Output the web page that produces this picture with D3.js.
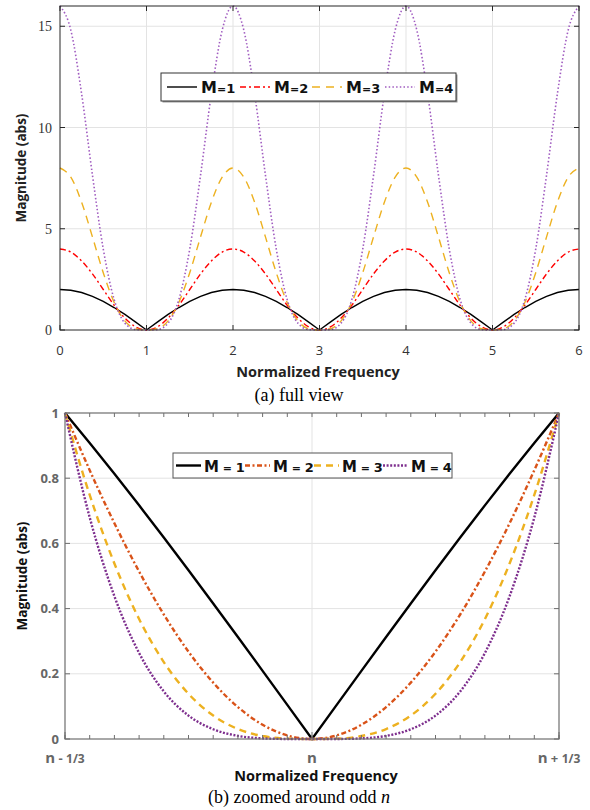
<!DOCTYPE html>
<html>
<head>
<meta charset="utf-8">
<script src="https://cdn.jsdelivr.net/npm/d3@7"></script>
<style>
  body { margin: 0; background: #fff; }
  svg { display: block; }
</style>
</head>
<body>
<div id="chart"></div>
<script>
// (a) full view : sample frequencies and |H| for M = 1..4
var freq = [0, 0.125, 0.25, 0.375, 0.5, 0.625, 0.75, 0.875, 1, 1.125, 1.25, 1.375, 1.5, 1.625, 1.75, 1.875,
  2, 2.125, 2.25, 2.375, 2.5, 2.625, 2.75, 2.875, 3, 3.125, 3.25, 3.375, 3.5, 3.625, 3.75, 3.875,
  4, 4.125, 4.25, 4.375, 4.5, 4.625, 4.75, 4.875, 5, 5.125, 5.25, 5.375, 5.5, 5.625, 5.75, 5.875, 6];
var magM1 = [2, 1.96, 1.85, 1.66, 1.41, 1.11, 0.77, 0.39, 0, 0.39, 0.77, 1.11, 1.41, 1.66, 1.85, 1.96,
  2, 1.96, 1.85, 1.66, 1.41, 1.11, 0.77, 0.39, 0, 0.39, 0.77, 1.11, 1.41, 1.66, 1.85, 1.96,
  2, 1.96, 1.85, 1.66, 1.41, 1.11, 0.77, 0.39, 0, 0.39, 0.77, 1.11, 1.41, 1.66, 1.85, 1.96, 2];
var magM2 = [4, 3.85, 3.41, 2.77, 2.00, 1.23, 0.59, 0.15, 0, 0.15, 0.59, 1.23, 2.00, 2.77, 3.41, 3.85,
  4, 3.85, 3.41, 2.77, 2.00, 1.23, 0.59, 0.15, 0, 0.15, 0.59, 1.23, 2.00, 2.77, 3.41, 3.85,
  4, 3.85, 3.41, 2.77, 2.00, 1.23, 0.59, 0.15, 0, 0.15, 0.59, 1.23, 2.00, 2.77, 3.41, 3.85, 4];
var magM3 = [8, 7.55, 6.31, 4.60, 2.83, 1.37, 0.45, 0.06, 0, 0.06, 0.45, 1.37, 2.83, 4.60, 6.31, 7.55,
  8, 7.55, 6.31, 4.60, 2.83, 1.37, 0.45, 0.06, 0, 0.06, 0.45, 1.37, 2.83, 4.60, 6.31, 7.55,
  8, 7.55, 6.31, 4.60, 2.83, 1.37, 0.45, 0.06, 0, 0.06, 0.45, 1.37, 2.83, 4.60, 6.31, 7.55, 8];
var magM4 = [16, 14.81, 11.66, 7.65, 4.00, 1.52, 0.34, 0.02, 0, 0.02, 0.34, 1.52, 4.00, 7.65, 11.66, 14.81,
  16, 14.81, 11.66, 7.65, 4.00, 1.52, 0.34, 0.02, 0, 0.02, 0.34, 1.52, 4.00, 7.65, 11.66, 14.81,
  16, 14.81, 11.66, 7.65, 4.00, 1.52, 0.34, 0.02, 0, 0.02, 0.34, 1.52, 4.00, 7.65, 11.66, 14.81, 16];
var fullXTicks = [0, 1, 2, 3, 4, 5, 6];
var fullYTicks = [0, 5, 10, 15];

// (b) zoomed : offset from n in units of 1/30
var offset = [-10, -9, -8, -7, -6, -5, -4, -3, -2, -1, 0, 1, 2, 3, 4, 5, 6, 7, 8, 9, 10];
var zoomM1 = [1, 0.908, 0.8135, 0.7167, 0.618, 0.5176, 0.4158, 0.3129, 0.2091, 0.1047, 0,
  0.1047, 0.2091, 0.3129, 0.4158, 0.5176, 0.618, 0.7167, 0.8135, 0.908, 1];
var zoomM2 = [1, 0.8245, 0.6618, 0.5137, 0.3819, 0.2679, 0.1729, 0.0979, 0.0437, 0.011, 0,
  0.011, 0.0437, 0.0979, 0.1729, 0.2679, 0.3819, 0.5137, 0.6618, 0.8245, 1];
var zoomM3 = [1, 0.7486, 0.5384, 0.3681, 0.236, 0.1387, 0.0719, 0.0306, 0.0091, 0.0011, 0,
  0.0011, 0.0091, 0.0306, 0.0719, 0.1387, 0.236, 0.3681, 0.5384, 0.7486, 1];
var zoomM4 = [1, 0.6797, 0.438, 0.2638, 0.1459, 0.0718, 0.0299, 0.0096, 0.0019, 0.0001, 0,
  0.0001, 0.0019, 0.0096, 0.0299, 0.0718, 0.1459, 0.2638, 0.438, 0.6797, 1];
var zoomXTicks = [-10, 0, 10];
var zoomXLabels = ["n - 1/3", "n", "n + 1/3"];
var zoomYTicks = [0, 0.2, 0.4, 0.6, 0.8, 1];

var labels = ["1", "2", "3", "4"];

var W = 590, H = 810;
var svg = d3.select("#chart").append("svg").attr("width", W).attr("height", H);

var sans = "'Open Sans', 'DejaVu Sans', sans-serif";
var serif = "'Liberation Serif', 'Times New Roman', serif";

// ---------------- panel (a) ----------------
var a = { l: 60, r: 579, t: 6, b: 330 };
var xa = d3.scaleLinear().domain([0, 6]).range([a.l, a.r]);
var ya = d3.scaleLinear().domain([0, 16]).range([a.b, a.t]);

var ga = svg.append("g");
// grid
ga.selectAll(".gx").data(fullXTicks.slice(1, -1)).enter().append("line")
  .attr("x1", function(d) { return xa(d); }).attr("x2", function(d) { return xa(d); })
  .attr("y1", a.t).attr("y2", a.b).attr("stroke", "#e3e3e3").attr("stroke-width", 1);
ga.selectAll(".gy").data(fullYTicks.slice(1)).enter().append("line")
  .attr("x1", a.l).attr("x2", a.r)
  .attr("y1", function(d) { return ya(d); }).attr("y2", function(d) { return ya(d); })
  .attr("stroke", "#e3e3e3").attr("stroke-width", 1);

var colA = ["#000000", "#ff0000", "#edb120", "#a05cc0"];
var dashA = [null, "6,3,2,3", "8,6", "1.5,2.2"];
var seriesA = [magM1, magM2, magM3, magM4];

seriesA.forEach(function(vals, k) {
  var line = d3.line()
    .x(function(d, i) { return xa(freq[i]); })
    .y(function(d) { return ya(d); })
    .curve(k === 0 ? d3.curveLinear : d3.curveMonotoneX);
  ga.append("path").datum(vals)
    .attr("d", line)
    .attr("fill", "none")
    .attr("stroke", colA[k])
    .attr("stroke-width", k === 3 ? 1.6 : 1.4)
    .attr("stroke-dasharray", dashA[k]);
});

// box and inward ticks
ga.append("rect").attr("x", a.l).attr("y", a.t).attr("width", a.r - a.l).attr("height", a.b - a.t)
  .attr("fill", "none").attr("stroke", "#262626").attr("stroke-width", 1);
var tl = 5;
fullXTicks.forEach(function(d) {
  ga.append("line").attr("x1", xa(d)).attr("x2", xa(d)).attr("y1", a.b).attr("y2", a.b - tl).attr("stroke", "#262626");
  ga.append("line").attr("x1", xa(d)).attr("x2", xa(d)).attr("y1", a.t).attr("y2", a.t + tl).attr("stroke", "#262626");
  ga.append("text").attr("x", xa(d)).attr("y", a.b + 25).attr("text-anchor", "middle")
    .attr("font-family", sans).attr("font-size", "13px").attr("fill", "#333").text(d);
});
fullYTicks.forEach(function(d) {
  ga.append("line").attr("x1", a.l).attr("x2", a.l + tl).attr("y1", ya(d)).attr("y2", ya(d)).attr("stroke", "#262626");
  ga.append("line").attr("x1", a.r).attr("x2", a.r - tl).attr("y1", ya(d)).attr("y2", ya(d)).attr("stroke", "#262626");
  ga.append("text").attr("x", a.l - 8).attr("y", ya(d) + 5).attr("text-anchor", "end")
    .attr("font-family", serif).attr("font-size", "14px").attr("fill", "#333").text(d);
});

ga.append("text").attr("transform", "translate(26," + ((a.t + a.b) / 2) + ") rotate(-90)")
  .attr("text-anchor", "middle").attr("font-family", sans).attr("font-weight", "bold")
  .attr("font-size", "13.5px").attr("fill", "#222").text("Magnitude (abs)");
ga.append("text").attr("x", 318).attr("y", 377)
  .attr("text-anchor", "middle").attr("font-family", sans).attr("font-weight", "bold")
  .attr("font-size", "14.5px").attr("fill", "#222").text("Normalized Frequency");
ga.append("text").attr("x", 299).attr("y", 401)
  .attr("text-anchor", "middle").attr("font-family", serif)
  .attr("font-size", "18px").attr("fill", "#000").text("(a) full view");

// legend (a)
var la = { x: 161, y: 73, w: 295, h: 28 };
ga.append("rect").attr("x", la.x + 1.5).attr("y", la.y + 1.5).attr("width", la.w).attr("height", la.h)
  .attr("fill", "#999");
ga.append("rect").attr("x", la.x).attr("y", la.y).attr("width", la.w).attr("height", la.h)
  .attr("fill", "#fff").attr("stroke", "#333").attr("stroke-width", 1);
var legAx = [167, 240, 312, 385];
labels.forEach(function(lab, k) {
  var cy = la.y + la.h / 2;
  ga.append("line").attr("x1", legAx[k]).attr("x2", legAx[k] + 30).attr("y1", cy).attr("y2", cy)
    .attr("stroke", colA[k]).attr("stroke-width", 1.4).attr("stroke-dasharray", dashA[k]);
  var t = ga.append("text").attr("x", legAx[k] + 34).attr("y", cy + 6)
    .attr("font-family", "'DejaVu Sans', sans-serif").attr("font-weight", "bold").attr("fill", "#111");
  t.append("tspan").attr("font-size", "16px").text("M");
  t.append("tspan").attr("font-size", "11px").text("=");
  t.append("tspan").attr("font-size", "13px").text(lab);
});

// ---------------- panel (b) ----------------
var b = { l: 65, r: 559, t: 413, b: 739 };
var xb = d3.scaleLinear().domain([-10, 10]).range([b.l, b.r]);
var yb = d3.scaleLinear().domain([0, 1]).range([b.b, b.t]);
var gb = svg.append("g");

gb.append("line").attr("x1", xb(0)).attr("x2", xb(0)).attr("y1", b.t).attr("y2", b.b)
  .attr("stroke", "#e3e3e3");
zoomYTicks.slice(1, -1).forEach(function(d) {
  gb.append("line").attr("x1", b.l).attr("x2", b.r).attr("y1", yb(d)).attr("y2", yb(d))
    .attr("stroke", "#e3e3e3");
});

var colB = ["#000000", "#d95319", "#edb120", "#7e2f8e"];
var dashB = [null, "5,2.5,2,2.5", "7,5", "2,1.6"];
var seriesB = [zoomM1, zoomM2, zoomM3, zoomM4];
seriesB.forEach(function(vals, k) {
  var line = d3.line()
    .x(function(d, i) { return xb(offset[i]); })
    .y(function(d) { return yb(d); })
    .curve(k === 0 ? d3.curveLinear : d3.curveMonotoneX);
  gb.append("path").datum(vals)
    .attr("d", line)
    .attr("fill", "none")
    .attr("stroke", colB[k])
    .attr("stroke-width", 2.4)
    .attr("stroke-dasharray", dashB[k]);
});

gb.append("rect").attr("x", b.l).attr("y", b.t).attr("width", b.r - b.l).attr("height", b.b - b.t)
  .attr("fill", "none").attr("stroke", "#6e6e6e").attr("stroke-width", 1.2);
offset.forEach(function(d) {
  gb.append("line").attr("x1", xb(d)).attr("x2", xb(d)).attr("y1", b.b).attr("y2", b.b - 4).attr("stroke", "#6e6e6e");
  gb.append("line").attr("x1", xb(d)).attr("x2", xb(d)).attr("y1", b.t).attr("y2", b.t + 4).attr("stroke", "#6e6e6e");
});
zoomXTicks.forEach(function(d, i) {
  gb.append("line").attr("x1", xb(d)).attr("x2", xb(d)).attr("y1", b.b).attr("y2", b.b - 7).attr("stroke", "#6e6e6e");
  var t = gb.append("text").attr("x", xb(d)).attr("y", 763).attr("text-anchor", "middle")
    .attr("font-family", sans).attr("font-weight", "bold").attr("fill", "#666");
  if (i === 1) {
    t.attr("font-size", "15px").text(zoomXLabels[i]);
  } else {
    var parts = zoomXLabels[i].split(" ");
    t.append("tspan").attr("font-size", "15px").text(parts[0]);
    t.append("tspan").attr("font-size", "13px").text(" " + parts[1] + " ");
    t.append("tspan").attr("font-size", "12px").text(parts[2]);
  }
});
zoomYTicks.forEach(function(d) {
  gb.append("line").attr("x1", b.l).attr("x2", b.l + 5).attr("y1", yb(d)).attr("y2", yb(d)).attr("stroke", "#6e6e6e");
  gb.append("line").attr("x1", b.r).attr("x2", b.r - 5).attr("y1", yb(d)).attr("y2", yb(d)).attr("stroke", "#6e6e6e");
  gb.append("text").attr("x", b.l - 6).attr("y", yb(d) + 4.5).attr("text-anchor", "end")
    .attr("font-family", sans).attr("font-weight", "bold").attr("font-size", "13px").attr("fill", "#666").text(d);
});

gb.append("text").attr("transform", "translate(27," + ((b.t + b.b) / 2) + ") rotate(-90)")
  .attr("text-anchor", "middle").attr("font-family", sans).attr("font-weight", "bold")
  .attr("font-size", "13.5px").attr("fill", "#111").text("Magnitude (abs)");
gb.append("text").attr("x", (b.l + b.r) / 2 + 4).attr("y", 781)
  .attr("text-anchor", "middle").attr("font-family", sans).attr("font-weight", "bold")
  .attr("font-size", "14.5px").attr("fill", "#111").text("Normalized Frequency");
var cap = gb.append("text").attr("x", 299).attr("y", 803)
  .attr("text-anchor", "middle").attr("font-family", serif)
  .attr("font-size", "18px").attr("fill", "#000");
cap.append("tspan").text("(b) zoomed around odd ");
cap.append("tspan").attr("font-style", "italic").text("n");

// legend (b)
var lb = { x: 173, y: 453, w: 279, h: 25 };
gb.append("rect").attr("x", lb.x).attr("y", lb.y).attr("width", lb.w).attr("height", lb.h)
  .attr("fill", "#fff").attr("stroke", "#555").attr("stroke-width", 1);
var legBx = [176, 245, 314, 383];
labels.forEach(function(lab, k) {
  var cy = lb.y + lb.h / 2;
  gb.append("line").attr("x1", legBx[k]).attr("x2", legBx[k] + 25).attr("y1", cy).attr("y2", cy)
    .attr("stroke", colB[k]).attr("stroke-width", 2.4).attr("stroke-dasharray", dashB[k]);
  var t = gb.append("text").attr("x", legBx[k] + 28).attr("y", cy + 6)
    .attr("font-family", "'DejaVu Sans', sans-serif").attr("font-weight", "bold").attr("fill", "#111");
  t.append("tspan").attr("font-size", "15px").text("M");
  t.append("tspan").attr("font-size", "11px").text(" = ");
  t.append("tspan").attr("font-size", "13px").text(lab);
});
</script>
</body>
</html>
